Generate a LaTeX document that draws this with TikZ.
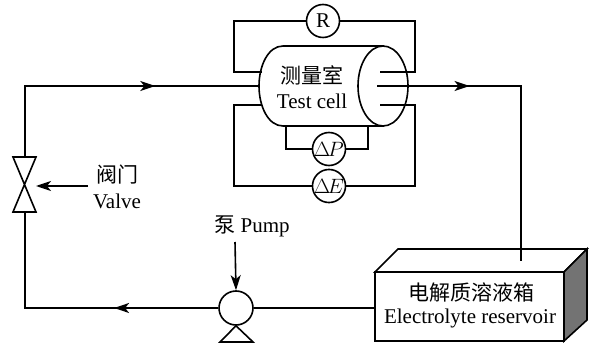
\documentclass[tikz,border=0pt]{standalone}
\usepackage{fontspec}
\setmainfont{Liberation Serif}
\newfontfamily\cjk{Noto Sans CJK SC}
\usetikzlibrary{arrows.meta,decorations.markings,shapes.geometric}
\tikzset{
  wire/.style={line width=1.6pt,line join=miter},
  tip/.style={-{Stealth[length=15pt,width=10pt,inset=4pt]}},
  midtip/.style={postaction={decorate},decoration={markings,mark=at position #1 with {\arrow{Stealth[length=15pt,width=10pt,inset=4pt]}}}},
  meter/.style={circle,draw,line width=1.6pt,fill=white,minimum size=33pt,inner sep=0pt,font=\fontsize{21}{22}\selectfont},
  zh/.style={inner sep=0pt,font=\cjk\fontsize{21}{24}\selectfont},
  en/.style={inner sep=0pt,font=\fontsize{21}{24}\selectfont},
}
\begin{document}
\begin{tikzpicture}[x=1pt,y=-1pt]
\useasboundingbox (0,0) rectangle (596,347);
% reservoir
\draw[wire,fill=white] (375,272) -- (398,249) -- (587,249) -- (564,272) -- cycle;
\draw[wire,fill=black!55] (564,272) -- (587,249) -- (587,320) -- (564,341) -- cycle;
\draw[wire,fill=white] (375,272) rectangle (564,341);
\coordinate (boxL) at (375,308);
\coordinate (boxT) at (521,261);
% test cell
\draw[wire,fill=white] (283,46) -- (383,46) -- (383,126) -- (283,126)
  .. controls (268,126) and (259,106) .. (259,86)
  .. controls (259,66) and (268,46) .. (283,46) -- cycle;
\node[draw,wire,ellipse,minimum width=50pt,minimum height=80pt,inner sep=0pt,fill=white] (end) at (383,86) {};
\coordinate (cellL) at (259,86);
\coordinate (in1) at (380,72);
\coordinate (in2) at (377,86);
\coordinate (in3) at (380,105);
\coordinate (botL) at (286,126);
\coordinate (botR) at (368,126);
\coordinate (wL1) at (262,72);
\coordinate (wL3) at (262,105);
% meters
\node[meter] (R) at (323,21) {R};
\node[meter] (dP) at (329,149) {$\Delta\mkern-2mu P$};
\node[meter] (dE) at (329,186) {$\Delta\mkern-2mu E$};
% valve and pump
\coordinate (vT) at (25,157);
\coordinate (vB) at (25,212);
\draw[wire,line join=miter] (13,157) -- (36,157) -- (13,212) -- (36,212) -- cycle;
\coordinate (vM) at (36,186);
\node[circle,draw,wire,minimum size=34pt,inner sep=0pt] (pump) at (236,308) {};
\draw[wire] (pump.south) -- (220,342) -- (253,342) -- cycle;
% labels
\node[zh] at (312,75) {测量室};
\node[en] at (312,101) {Test cell};
\node[zh] at (117,175) {阀门};
\node[en] (vl) at (117,201) {Valve};
\node[en] (pl) at (252,226) {{\cjk 泵}\ Pump};
\node[zh] at (471,292) {电解质溶液箱};
\node[en] at (470,318) {Electrolyte reservoir};
\coordinate (vA) at (88,186);
\coordinate (pA) at (235,242);
% wires
\draw[wire] (wL1) -- (234,72) -- (234,21) -- (R);
\draw[wire] (R) -- (415,21) -- (415,72) -- (in1);
\draw[wire] (wL3) -- (234,105) -- (234,186) -- (dE);
\draw[wire] (dE) -- (415,186) -- (415,105) -- (in3);
\draw[wire] (botL) -- (286,149) -- (dP);
\draw[wire] (dP) -- (368,149) -- (botR);
\draw[wire,midtip=0.66] (vT) -- (25,86) -- (cellL);
\draw[wire,midtip=0.29] (in2) -- (521,86) -- (boxT);
\draw[wire,midtip=0.36] (pump) -- (25,308) -- (vB);
\draw[wire] (boxL) -- (pump);
\draw[wire,tip] (vA) -- (vM);
\draw[wire,tip] (pA) -- (pump.north);
\end{tikzpicture}
\end{document}
